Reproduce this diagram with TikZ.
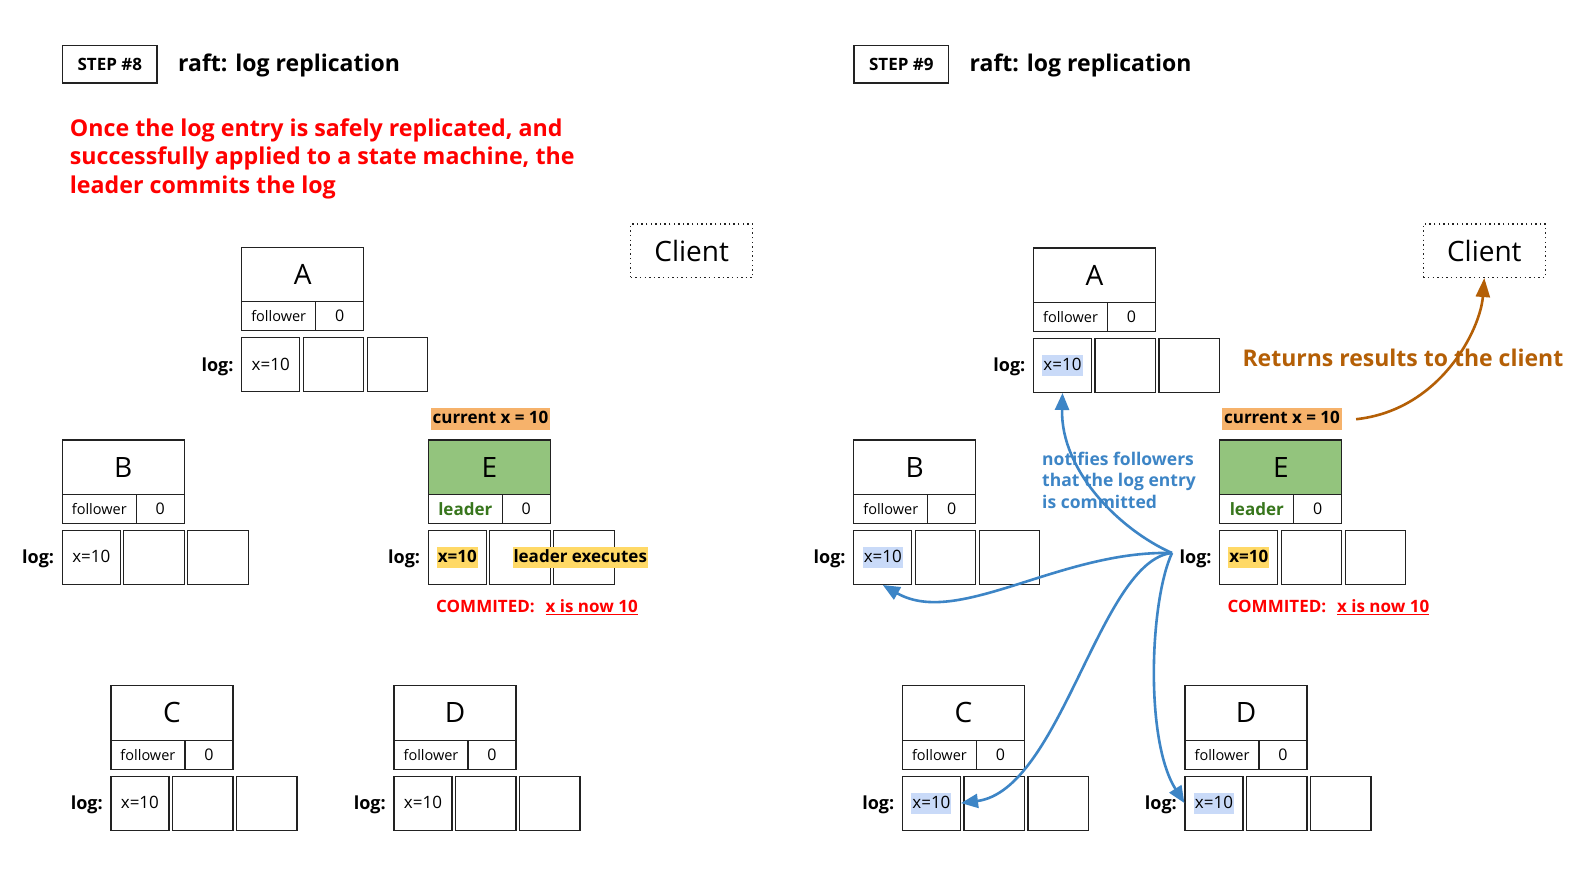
\documentclass[tikz,border=0pt]{standalone}
\usepackage{fontspec}
\setmainfont{Open Sans}
\usetikzlibrary{arrows.meta,calc}
\definecolor{rred}{HTML}{FF0000}
\definecolor{egreen}{HTML}{93C47D}
\definecolor{lgreen}{HTML}{38761D}
\definecolor{curorange}{HTML}{F6B26B}
\definecolor{hlyellow}{HTML}{FFD966}
\definecolor{hlblue}{HTML}{C9DAF8}
\definecolor{arrblue}{HTML}{3D85C6}
\definecolor{brown}{HTML}{B45F06}
\definecolor{edge}{HTML}{222222}

\newcommand{\raftnode}[6]{%
  \node[hdrbox, fill=#5] (#1-h) at (#2+61,#3+27.2) {#4};
  \node[rolebox] (#1-r) at (#2+37,#3+68.9) {#6};
  \node[termbox] (#1-t) at (#2+98,#3+68.9) {0};
  \node[logcell=58pt] (#1-l1) at (#2+29,#3+117.4) {};
  \node[logcell=60.5pt] (#1-l2) at (#2+91.75,#3+117.4) {};
  \node[logcell=60.5pt] (#1-l3) at (#2+155.75,#3+117.4) {};
  \node[loglbl] (#1-lg) at (#2-8,#3+123.9) {log:};
}

\begin{document}
\begin{tikzpicture}[x=1pt,y=-1pt,
  hdrbox/.style={draw=edge, line width=1.2pt, inner sep=0pt, minimum width=122pt, minimum height=54.4pt, font=\fontsize{28}{32}\selectfont},
  rolebox/.style={draw=edge, line width=1.2pt, inner sep=0pt, minimum width=74pt, minimum height=29pt, font=\fontsize{14.5}{16}\selectfont},
  termbox/.style={draw=edge, line width=1.2pt, inner sep=0pt, minimum width=48pt, minimum height=29pt, font=\fontsize{16}{18}\selectfont},
  logcell/.style={draw=edge, line width=1.2pt, inner sep=0pt, minimum height=54pt, minimum width=#1},
  loglbl/.style={anchor=base east, inner sep=0pt, font=\bfseries\fontsize{18}{20}\selectfont},
  xval/.style={inner xsep=1pt, inner ysep=2pt, text height=14pt, text depth=3pt, font=\fontsize{17}{20}\selectfont},
  xbold/.style={xval, font=\bfseries\fontsize{17}{20}\selectfont},
  stepbox/.style={draw=edge, line width=1.2pt, inner sep=0pt, minimum width=94.5pt, minimum height=37.5pt, font=\bfseries\fontsize{17}{19}\selectfont},
  titletxt/.style={anchor=base west, inner sep=0pt, font=\bfseries\fontsize{23}{26}\selectfont},
  redtxt/.style={anchor=base west, inner sep=0pt, text=rred, font=\bfseries\fontsize{23.2}{27}\selectfont},
  clientbox/.style={draw=edge, line width=1.4pt, dash pattern=on 1.4pt off 3.2pt, inner sep=0pt, minimum width=122pt, minimum height=53.3pt, font=\fontsize{28}{32}\selectfont},
  curlbl/.style={fill=curorange, inner xsep=2pt, inner ysep=2.3pt, text height=13pt, text depth=4pt, font=\bfseries\fontsize{17}{20}\selectfont},
  committxt/.style={anchor=base west, inner sep=0pt, text=rred, font=\bfseries\fontsize{17}{20}\selectfont},
  bluetxt/.style={anchor=base west, inner sep=0pt, text=arrblue, font=\bfseries\fontsize{17.5}{20}\selectfont},
  browntxt/.style={anchor=base west, inner sep=0pt, text=brown, font=\bfseries\fontsize{23}{26}\selectfont},
  barrow/.style={draw=arrblue, line width=2.6pt, -{Triangle[length=17pt,width=14pt]}},
  oarrow/.style={draw=brown, line width=2.6pt, -{Triangle[length=19pt,width=14pt]}}
]
\useasboundingbox (0,0) rectangle (1596,873);
\fill[white] (0,0) rectangle (1596,873);

% ================= STEP 8 =================
\node[stepbox] (s8) at (109.8,64.3) {STEP \#8};
\node[titletxt] (t8) at (178,71.5) {raft: log replication};
\node[redtxt] (m1) at (69.7,136) {Once the log entry is safely replicated, and};
\node[redtxt] (m2) at (69.7,164.5) {successfully applied to a state machine, the};
\node[redtxt] (m3) at (69.7,193) {leader commits the log};
\node[clientbox] (cl8) at (691.7,250.7) {Client};

\raftnode{A}{241.7}{247.3}{A}{white}{follower}
\raftnode{B}{62.3}{440}{B}{white}{follower}
\raftnode{E}{428.3}{440}{E}{egreen}{\textcolor{lgreen}{\bfseries\fontsize{17}{20}\selectfont leader}}
\raftnode{C}{110.9}{685.7}{C}{white}{follower}
\raftnode{D}{394}{685.7}{D}{white}{follower}

\node[xval] (A-x) at (A-l1) {x=10};
\node[xval] (B-x) at (B-l1) {x=10};
\node[xval] (C-x) at (C-l1) {x=10};
\node[xval] (D-x) at (D-l1) {x=10};
\node[xbold, fill=hlyellow] (E-x) at (E-l1) {x=10};
\node[xbold, fill=hlyellow, anchor=west] (E-ex) at (512.3,557.4) {leader executes};
\node[curlbl] (E-cur) at (490.5,419.2) {current x = 10};
\node[committxt] (E-cm) at (436,612.7) {COMMITED:\hspace{11pt}\underline{x is now 10}};

% ================= STEP 9 =================
\node[stepbox] (s9) at (901.3,64.3) {STEP \#9};
\node[titletxt] (t9) at (969.5,71.5) {raft: log replication};
\node[clientbox] (cl9) at (1484.3,250.7) {Client};

\raftnode{A2}{1033.5}{248}{A}{white}{follower}
\raftnode{B2}{853.8}{440}{B}{white}{follower}
\raftnode{E2}{1219.8}{440}{E}{egreen}{\textcolor{lgreen}{\bfseries\fontsize{17}{20}\selectfont leader}}
\raftnode{C2}{902.4}{685.7}{C}{white}{follower}
\raftnode{D2}{1185}{685.7}{D}{white}{follower}

\node[xval, fill=hlblue] (A2-x) at (A2-l1) {x=10};
\node[xval, fill=hlblue] (B2-x) at (B2-l1) {x=10};
\node[xval, fill=hlblue] (C2-x) at (C2-l1) {x=10};
\node[xval, fill=hlblue] (D2-x) at (D2-l1) {x=10};
\node[xbold, fill=hlyellow] (E2-x) at (E2-l1) {x=10};
\node[curlbl] (E2-cur) at (1282,419.2) {current x = 10};
\node[committxt] (E2-cm) at (1227.5,612.7) {COMMITED:\hspace{11pt}\underline{x is now 10}};

\node[bluetxt] (n1) at (1042,465) {notifies followers};
\node[bluetxt] (n2) at (1042,486.7) {that the log entry};
\node[bluetxt] (n3) at (1042,508.3) {is committed};
\node[browntxt] (ret) at (1242.3,366.7) {Returns results to the client};

\coordinate (src) at (1172,553);
\draw[barrow] (src) .. controls +(-52,-23) and +(-2,78) .. (A2-l1.south);
\draw[barrow] (src) .. controls +(-112,-3) and +(75,43) .. (B2-l1.south);
\draw[barrow] (src) .. controls +(-72,7) and +(100,-13) .. (C2-l1.east);
\draw[barrow] (src) .. controls +(-22,47) and +(-40,-63) .. (D2-l1.west);

\coordinate (ostart) at ($(E2-cur.east)+(14,0)$);
\draw[oarrow] (ostart) .. controls +(84,-9) and +(-4,52) .. (cl9.south);
\end{tikzpicture}
\end{document}
